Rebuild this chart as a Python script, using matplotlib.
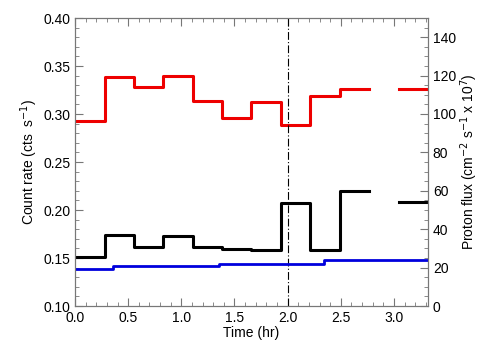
import numpy as np
import matplotlib
matplotlib.use("Agg")
import matplotlib.pyplot as plt
from matplotlib.ticker import MultipleLocator

plt.rcParams['font.family'] = ['Liberation Sans', 'DejaVu Sans']

# Data
time_edges = [0.0, 0.28, 0.555, 0.83, 1.11, 1.385, 1.66, 1.94, 2.215, 2.49, 2.77, 3.05, 3.32]
red_rate = [0.2927, 0.3385, 0.3285, 0.3396, 0.3139, 0.2958, 0.3123, 0.2882, 0.3191, 0.3264, np.nan, 0.3257]
black_rate = [0.151, 0.174, 0.1615, 0.1729, 0.1611, 0.1594, 0.1583, 0.2069, 0.1583, 0.220, np.nan, 0.208]
proton_edges = [0.0, 0.355, 1.35, 2.34, 3.32]
proton_flux = [19.3, 20.8, 21.9, 24.0]
event_time = 2.0

fig = plt.figure(figsize=(5.04, 3.6), dpi=100)
ax = fig.add_axes([0.149, 0.15, 0.700, 0.80])
ax2 = ax.twinx()

def stepdata(edges, vals):
    x = np.asarray(edges, float)
    y = np.append(np.asarray(vals, float), vals[-1])
    return x, y

x, y = stepdata(time_edges, red_rate)
ax.step(x, y, where='post', color='#ee0000', lw=2.2)
x, y = stepdata(time_edges, black_rate)
ax.step(x, y, where='post', color='black', lw=2.2)
x, y = stepdata(proton_edges, proton_flux)
ax2.step(x, y, where='post', color='#0000dd', lw=2.0)

ax.axvline(event_time, color='black', lw=0.8, linestyle=(0, (7, 2, 1, 2)))

ax.set_xlim(0, 3.32)
ax.set_ylim(0.10, 0.40)
ax2.set_ylim(0, 150)

ax.xaxis.set_major_locator(MultipleLocator(0.5))
ax.xaxis.set_minor_locator(MultipleLocator(0.1))
ax.yaxis.set_major_locator(MultipleLocator(0.05))
ax.yaxis.set_minor_locator(MultipleLocator(0.01))
ax2.yaxis.set_major_locator(MultipleLocator(20))
ax2.yaxis.set_minor_locator(MultipleLocator(5))
ax.xaxis.set_major_formatter(plt.FormatStrFormatter('%.1f'))
ax.yaxis.set_major_formatter(plt.FormatStrFormatter('%.2f'))

gray = '#777777'
for a in (ax, ax2):
    for s in a.spines.values():
        s.set_color(gray)
        s.set_linewidth(0.8)
ax.tick_params(axis='x', which='both', direction='in', top=True, bottom=True, colors=gray, labelcolor='black', labelsize=10)
ax.tick_params(axis='x', which='major', length=6)
ax.tick_params(axis='x', which='minor', length=3)
ax.tick_params(axis='y', which='both', direction='in', left=True, right=False, colors=gray, labelcolor='black', labelsize=10)
ax.tick_params(axis='y', which='major', length=6)
ax.tick_params(axis='y', which='minor', length=3)
ax2.tick_params(axis='y', which='both', direction='in', right=True, colors=gray, labelcolor='black', labelsize=10)
ax2.tick_params(axis='y', which='major', length=6)
ax2.tick_params(axis='y', which='minor', length=3)

ax.set_xlabel('Time (hr)', fontsize=10, labelpad=1)
ax.set_ylabel('Count rate (cts  s$^{-1}$)', fontsize=10, labelpad=2)
ax2.set_ylabel('Proton flux (cm$^{-2}$ s$^{-1}$ x 10$^{7}$)', fontsize=10, labelpad=2)

fig.savefig('out.png', dpi=100)
